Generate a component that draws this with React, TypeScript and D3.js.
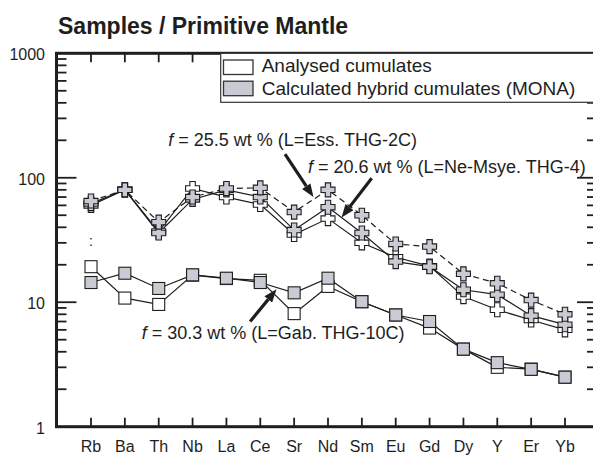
import React from 'react';
import * as d3 from 'd3';

const elements = ['Rb', 'Ba', 'Th', 'Nb', 'La', 'Ce', 'Sr', 'Nd', 'Sm', 'Eu', 'Gd', 'Dy', 'Y', 'Er', 'Yb'];

// upper group (crosses)
const analysedUpper = [60, 80, 37, 82, 70, 61, 35, 47, 30, 23, 19.5, 11.1, 8.7, 7.2, 6.0];
const calc206 = [62, 80, 36, 67, 80, 70, 38, 58, 36, 21.2, 19.3, 12.6, 11.5, 7.8, 6.6];
const calc255 = [65, 80, 44, 70, 82, 83, 53, 80, 50, 29.4, 28, 16.9, 14.2, 10.4, 8.0];

// lower group (squares)
const analysedLower = [19.3, 10.8, 9.6, 16.5, 15.5, 15, 8.1, 13.4, 10.1, 7.9, 6.2, 4.2, 3.0, 2.9, 2.5];
const calc303 = [14.4, 17.1, 12.9, 16.6, 15.6, 14.4, 11.9, 15.6, 10.1, 7.9, 7.0, 4.2, 3.27, 2.89, 2.5];

const yTickLabels = [1, 10, 100, 1000];

const legendItems = ['Analysed cumulates', 'Calculated hybrid cumulates (MONA)'];

// annotations: text anchor and arrow in data space (fractional element index, value)
const annotations = [
  { label: ' = 25.5 wt % (L=Ess. THG-2C)', tx: 2.28, tv: 180, from: [5.73, 155], to: [6.57, 70] },
  { label: ' = 20.6 wt % (L=Ne-Msye. THG-4)', tx: 6.41, tv: 110, from: [8.29, 99], to: [7.4, 48] },
  { label: ' = 30.3 wt % (L=Gab. THG-10C)', tx: 1.5, tv: 5.1, from: [4.7, 7.0], to: [5.48, 12.7] },
];

const FONT = '"Liberation Sans", Arial, Helvetica, sans-serif';
const GREY = '#c8cbd3';
const INK = '#1e1e1e';

const W = 593;
const H = 457;
const left = 56.5;
const right = 597;
const top = 53.3;
const bottom = 426.7;

const plus = (cx: number, cy: number) => {
  const s = 7;
  const w = 2.7;
  return `M${cx - w},${cy - s}H${cx + w}V${cy - w}H${cx + s}V${cy + w}H${cx + w}V${cy + s}H${cx - w}V${cy + w}H${cx - s}V${cy - w}H${cx - w}Z`;
};

const App = () => {
  const x = d3.scalePoint<string>().domain(elements).range([91, 565]);
  const y = d3.scaleLog().domain([1, 1000]).range([bottom, top]);
  const xf = (i: number) => (x(elements[0]) as number) + i * x.step();

  const line = d3
    .line<number>()
    .x((_, i) => x(elements[i]) as number)
    .y((d) => y(d));

  const minor: number[] = [];
  [1, 10, 100].forEach((dec) => {
    for (let k = 2; k <= 9; k++) minor.push(dec * k);
  });

  const arrow = (a: typeof annotations[0], key: number) => {
    const x1 = xf(a.from[0]);
    const y1 = y(a.from[1]);
    const x2 = xf(a.to[0]);
    const y2 = y(a.to[1]);
    const ang = Math.atan2(y2 - y1, x2 - x1);
    const hl = 13;
    const hw = 5;
    const bx = x2 - hl * Math.cos(ang);
    const by = y2 - hl * Math.sin(ang);
    const px = -Math.sin(ang) * hw;
    const py = Math.cos(ang) * hw;
    return (
      <g key={key}>
        <line x1={x1} y1={y1} x2={bx} y2={by} stroke={INK} strokeWidth={3.2} />
        <path d={`M${x2},${y2}L${bx + px},${by + py}L${bx - px},${by - py}Z`} fill={INK} />
      </g>
    );
  };

  return (
    <svg width={W} height={H} style={{ position: 'absolute', left: 0, top: 0 }} fontFamily={FONT}>
      <rect width={W} height={H} fill="#fff" />
      <text x={58} y={34} fontSize={23} fontWeight="bold" fill={INK}>
        Samples / Primitive Mantle
      </text>

      {/* ticks */}
      {minor.map((v) => (
        <g key={'m' + v} stroke={INK} strokeWidth={1.8}>
          <line x1={left} x2={left + 10} y1={y(v)} y2={y(v)} />
          <line x1={right} x2={right - 10} y1={y(v)} y2={y(v)} />
        </g>
      ))}
      {[10, 100].map((v) => (
        <g key={'M' + v} stroke={INK} strokeWidth={1.8}>
          <line x1={left} x2={left + 20} y1={y(v)} y2={y(v)} />
          <line x1={right} x2={right - 20} y1={y(v)} y2={y(v)} />
        </g>
      ))}
      {elements.map((e) => (
        <g key={'t' + e} stroke={INK} strokeWidth={1.8}>
          <line x1={x(e)} x2={x(e)} y1={bottom} y2={bottom - 9} />
          <line x1={x(e)} x2={x(e)} y1={top} y2={top + 9} />
        </g>
      ))}
      <rect x={left} y={top} width={right - left} height={bottom - top} fill="none" stroke={INK} strokeWidth={3} />

      {/* tick labels */}
      {yTickLabels.map((v) => (
        <text key={'yl' + v} x={45} y={y(v) + 7} fontSize={16} textAnchor="end" fill={INK}>
          {v}
        </text>
      ))}
      {elements.map((e) => (
        <text key={'xl' + e} x={x(e)} y={452} fontSize={16} textAnchor="middle" fill={INK}>
          {e}
        </text>
      ))}

      {/* legend */}
      <rect x={220.7} y={top} width={W} height={102.3 - top} fill="#fff" stroke="#333" strokeWidth={1.2} />
      {legendItems.map((l, i) => (
        <g key={l}>
          <rect x={223.5} y={60 + i * 21.2} width={29.5} height={14.5} fill={i === 0 ? '#fff' : GREY} stroke="#333" strokeWidth={1.3} />
          <text x={261.7} y={72 + i * 23} fontSize={19} fill={INK}>
            {l}
          </text>
        </g>
      ))}

      {/* lines */}
      <path d={line(analysedLower) as string} fill="none" stroke={INK} strokeWidth={1.2} />
      <path d={line(calc303) as string} fill="none" stroke={INK} strokeWidth={1.2} />
      <path d={line(analysedUpper) as string} fill="none" stroke={INK} strokeWidth={1.2} />
      <path d={line(calc206) as string} fill="none" stroke={INK} strokeWidth={1.2} />
      <path d={line(calc255) as string} fill="none" stroke={INK} strokeWidth={1.2} strokeDasharray="6,4" />

      {/* markers */}
      {analysedLower.map((v, i) => (
        <rect key={'al' + i} x={(x(elements[i]) as number) - 6} y={y(v) - 6} width={12} height={12} fill="#fff" stroke={INK} strokeWidth={1.1} />
      ))}
      {calc303.map((v, i) => (
        <rect key={'cl' + i} x={(x(elements[i]) as number) - 6} y={y(v) - 6} width={12} height={12} fill={GREY} stroke={INK} strokeWidth={1.1} />
      ))}
      {analysedUpper.map((v, i) => (
        <path key={'au' + i} d={plus(x(elements[i]) as number, y(v))} fill="#fff" stroke={INK} strokeWidth={1.1} />
      ))}
      {calc206.map((v, i) => (
        <path key={'c2' + i} d={plus(x(elements[i]) as number, y(v))} fill={GREY} stroke={INK} strokeWidth={1.1} />
      ))}
      {calc255.map((v, i) => (
        <path key={'c5' + i} d={plus(x(elements[i]) as number, y(v))} fill={GREY} stroke={INK} strokeWidth={1.1} />
      ))}

      <text x={x('Rb')} y={y(30.5) + 4} fontSize={14} textAnchor="middle" fill={INK}>
        :
      </text>

      {/* annotations */}
      {annotations.map((a, i) => (
        <g key={'an' + i}>
          {arrow(a, i)}
          <text x={xf(a.tx)} y={y(a.tv)} fontSize={18} fill={INK}>
            <tspan fontStyle="italic">f</tspan>
            {a.label}
          </text>
        </g>
      ))}
    </svg>
  );
};

export default App;
